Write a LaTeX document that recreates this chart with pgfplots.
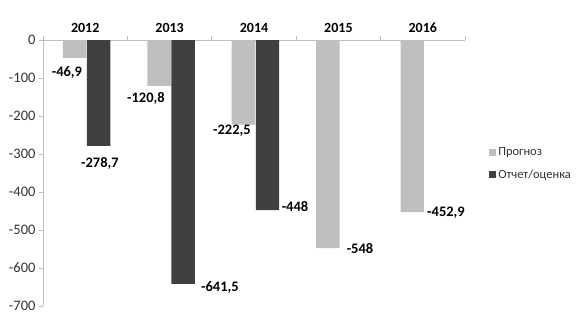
\documentclass[border=0pt]{standalone}
\usepackage{pgfplots}
\pgfplotsset{compat=1.18}
\usepackage{fontspec}
\setmainfont{Carlito}
\definecolor{lightbar}{HTML}{BFBFBF}
\definecolor{darkbar}{HTML}{404040}
\definecolor{axisgray}{HTML}{BFBFBF}
\definecolor{txt}{HTML}{333333}
\begin{document}
\begin{tikzpicture}[x=1pt,y=1pt]
\begin{axis}[
  scale only axis,
  width=422pt, height=266pt,
  xmin=-0.5, xmax=4.5,
  ymin=-700, ymax=0,
  axis x line*=top,
  axis y line*=left,
  axis line style={axisgray, line width=0.8pt},
  xtick={0,1,2,3,4},
  xticklabels={2012,2013,2014,2015,2016},
  xticklabel style={font=\fontsize{14}{16}\selectfont\bfseries, text=black},
  major x tick style={draw=none},
  minor xtick={-0.5,0.5,1.5,2.5,3.5,4.5},
  minor tick length=4pt,
  minor x tick style={axisgray, line width=0.8pt},
  ytick={-700,-600,-500,-400,-300,-200,-100,0},
  yticklabels={-700,-600,-500,-400,-300,-200,-100,0},
  yticklabel style={font=\fontsize{14.5}{16}\selectfont, text=txt},
  major tick length=4pt,
  tick align=outside,
  major y tick style={axisgray, line width=0.8pt},
  ybar, bar width=0.278,
  legend style={at={(1.05,0.535)}, anchor=west, draw=none, fill=none,
    font=\fontsize{12.5}{14}\selectfont, text=txt, row sep=9pt},
  legend cell align=left,
  legend image code/.code={\fill[#1] (0pt,-3.5pt) rectangle (7pt,3.5pt);},
]
\addplot[fill=lightbar, draw=none, bar shift=-0.125] coordinates {(0,-46.9) (1,-120.8) (2,-222.5) (3,-548) (4,-452.9)};
\addlegendentry{Прогноз}
\addplot[fill=darkbar, draw=none, bar shift=0.16] coordinates {(0,-278.7) (1,-641.5) (2,-448)};
\addlegendentry{Отчет/оценка}
\begin{scope}[every node/.style={font=\fontsize{14.5}{16}\selectfont\bfseries, text=black}]
\node at (axis cs:-0.216,-86.8) {-46,9};
\node at (axis cs:0.175,-323.7) {-278,7};
\node at (axis cs:0.720,-152.6) {-120,8};
\node at (axis cs:1.597,-652.6) {-641,5};
\node at (axis cs:1.739,-239.5) {-222,5};
\node at (axis cs:2.486,-439.5) {-448};
\node at (axis cs:3.256,-550) {-548};
\node at (axis cs:4.275,-455) {-452,9};
\end{scope}
\end{axis}
\path[draw=none] (-43pt,-12pt) rectangle (539pt,306pt);
\end{tikzpicture}
\end{document}
